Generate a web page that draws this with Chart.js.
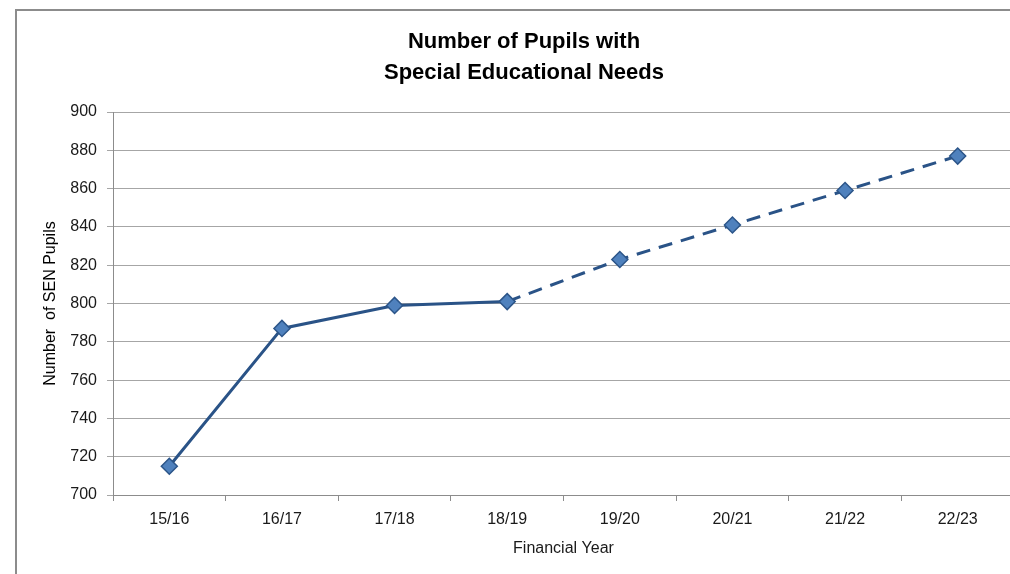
<!DOCTYPE html>
<html>
<head>
<meta charset="utf-8">
<script src="https://cdn.jsdelivr.net/npm/chart.js@4/dist/chart.umd.min.js"></script>
<style>
  html, body { margin: 0; padding: 0; background: #fff; overflow: hidden; }
  #frame { position: absolute; left: 15px; top: 9px; width: 1030px; height: 600px; border: 2px solid #8c8c8c; }
  #wrap { position: absolute; left: 16px; top: 0; width: 1018px; height: 574px; }
</style>
</head>
<body>
<div id="frame"></div>
<div id="wrap"><canvas id="chart" width="1018" height="574"></canvas></div>
<script>
// Data
const years = ["15/16", "16/17", "17/18", "18/19", "19/20", "20/21", "21/22", "22/23"]
const pupils = [715, 787, 799, 801, 823, 841, 859, 877]
const lastActual = 3 // index of 18/19, forecast (dashed) after this

const yMin = 700
const yMax = 900
const yStep = 20

const chartTitle = ["Number of Pupils with", "Special Educational Needs"]
const xTitle = "Financial Year"
const yTitle = "Number  of SEN Pupils"

const font = "'Liberation Sans', Arial, sans-serif"
const lineColor = "#2a5387"
const gridColor = "#a6a6a6"

new Chart(document.getElementById("chart"), {
  type: "line",
  data: {
    labels: years,
    datasets: [
      {
        data: pupils,
        borderColor: lineColor,
        borderWidth: 3,
        tension: 0,
        pointStyle: "rectRot",
        pointRadius: 8,
        pointHoverRadius: 8,
        pointBackgroundColor: "#4f81bd",
        pointBorderColor: "#2c5589",
        pointBorderWidth: 1.5,
        segment: {
          borderDash: (ctx) => (ctx.p0DataIndex >= lastActual ? [14, 9] : undefined),
        },
      },
    ],
  },
  options: {
    responsive: false,
    animation: false,
    layout: { padding: { left: 18, right: 20, top: 0, bottom: 0 } },
    plugins: {
      legend: { display: false },
      tooltip: { enabled: false },
      title: {
        display: true,
        text: chartTitle,
        color: "#000",
        font: { family: font, size: 22, weight: "bold", lineHeight: 1.41 },
        padding: { top: 26, bottom: 24 },
      },
    },
    scales: {
      x: {
        offset: true,
        afterFit: (s) => { s.height = 79 },
        grid: { offset: true, drawOnChartArea: false, tickLength: 6, color: "#8c8c8c" },
        border: { color: "#8c8c8c" },
        ticks: { color: "#1a1a1a", padding: 9, font: { family: font, size: 16 } },
        title: {
          display: true,
          text: xTitle,
          color: "#1a1a1a",
          font: { family: font, size: 16 },
          padding: { top: 0, bottom: 16 },
        },
      },
      y: {
        min: yMin,
        max: yMax,
        afterFit: (s) => { s.width = 79 },
        grid: { tickLength: 6, color: gridColor },
        border: { color: "#8c8c8c" },
        ticks: { stepSize: yStep, color: "#1a1a1a", padding: 10, font: { family: font, size: 16 } },
        title: {
          display: true,
          text: yTitle,
          color: "#000",
          font: { family: font, size: 16 },
          padding: { top: 7, bottom: 0 },
        },
      },
    },
  },
})
</script>
</body>
</html>
